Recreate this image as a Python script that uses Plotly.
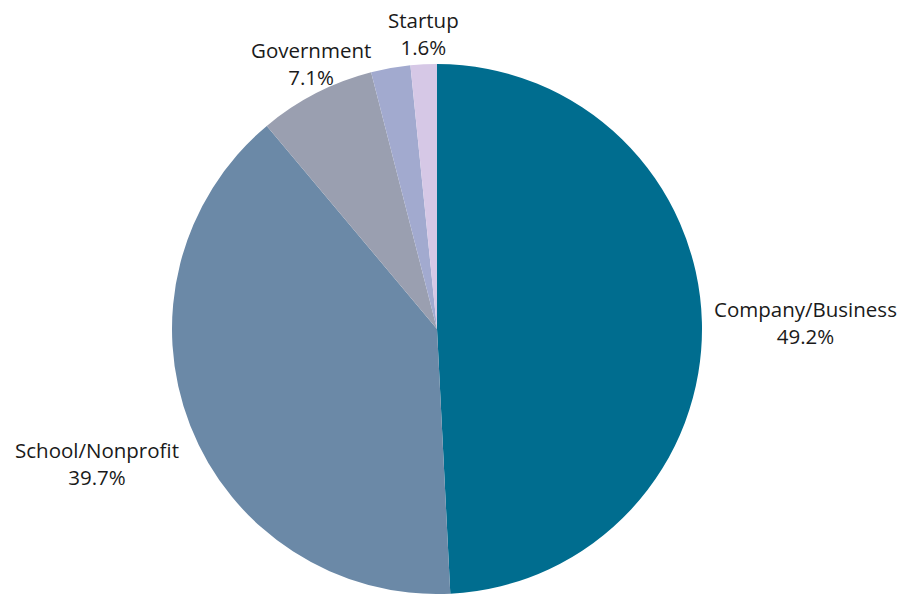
import math
import plotly.graph_objects as go

categories = ["Company/Business", "School/Nonprofit", "Government", "Other", "Startup"]
values = [49.2, 39.7, 7.1, 2.4, 1.6]
show_label = [True, True, True, False, True]
colors = ["#006d8f", "#6b89a7", "#9a9fb0", "#a2aacf", "#d6c8e6"]

# Figure size (page body has an 8px margin inside the 906x594 window)
W, H = 898, 586
T, B = 56, 0
cx, cy, R = 429, 321, 265  # pie geometry in figure pixels

fig = go.Figure(go.Pie(
    labels=categories,
    values=values,
    textinfo="none",
    marker=dict(colors=colors, line=dict(width=0)),
    sort=False,
    direction="clockwise",
    rotation=0,
    hoverinfo="label+percent",
    showlegend=False,
    domain=dict(x=[(cx - R) / W, (cx + R) / W], y=[0, 1]),
))

# Outside labels, placed from each slice's mid-angle
total = sum(values)
cum = 0.0
annotations = []
for name, v, show in zip(categories, values, show_label):
    mid = (cum + v / 2) / total * 2 * math.pi
    cum += v
    if not show:
        continue
    s, c = math.sin(mid), math.cos(mid)
    r = R + 10
    px = cx + r * s
    py = cy - r * c
    xanchor = "left" if s > 0.5 else ("right" if s < -0.5 else "center")
    yanchor = "bottom" if c > 0.3 else ("top" if c < -0.3 else "middle")
    yshift = {"middle": 0, "top": -5, "bottom": -9}[yanchor]
    annotations.append(dict(
        x=px / W, y=1 - (py - T) / (H - T - B), xref="paper", yref="paper",
        text=f"{name}<br>{v / total * 100:.1f}%",
        showarrow=False, xanchor=xanchor, yanchor=yanchor, align="center",
        yshift=yshift,
        font=dict(family="Open Sans", size=20.5, color="#1a1a1a"),
    ))

fig.update_layout(
    width=W, height=H,
    margin=dict(l=0, r=0, t=T, b=B),
    paper_bgcolor="white",
    plot_bgcolor="white",
    annotations=annotations,
)

fig.write_html("out.html")
